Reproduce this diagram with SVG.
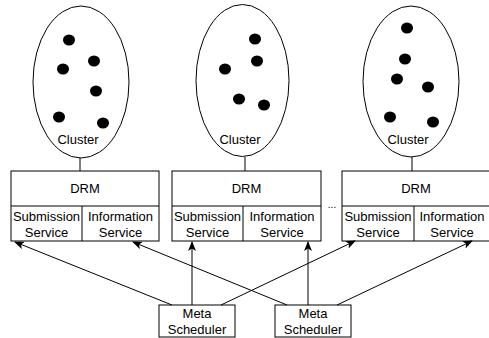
<svg xmlns="http://www.w3.org/2000/svg" width="489" height="338" viewBox="0 0 489 338">
<style>
.s{fill:#fff;stroke:#000;stroke-width:1}
.d{fill:#000}
.t{font-family:"Liberation Sans",Arial,sans-serif;font-size:13px;fill:#000;text-anchor:middle}
.c{stroke:#000;stroke-width:1;fill:none}
</style>
<defs>
<marker id="a" markerWidth="10" markerHeight="8" refX="9" refY="4" orient="auto" markerUnits="userSpaceOnUse">
<path d="M0,0 L10,4 L0,8 L2.5,4 Z" fill="#000"/>
</marker>
</defs>
<rect width="489" height="338" fill="#fff"/>
<g id="cluster1">
<ellipse class="s" cx="81" cy="82" rx="48" ry="76"/>
<ellipse class="d" cx="69" cy="40" rx="6" ry="5.5"/>
<ellipse class="d" cx="94" cy="61" rx="6" ry="5.5"/>
<ellipse class="d" cx="63" cy="69" rx="6" ry="5.5"/>
<ellipse class="d" cx="96" cy="91" rx="6" ry="5.5"/>
<ellipse class="d" cx="59" cy="117" rx="6" ry="5.5"/>
<ellipse class="d" cx="103" cy="123" rx="6" ry="5.5"/>
<text class="t" x="78" y="144">Cluster</text>
</g>
<g id="cluster2">
<ellipse class="s" cx="242.5" cy="80.5" rx="46.5" ry="76"/>
<ellipse class="d" cx="255" cy="39" rx="6" ry="5.5"/>
<ellipse class="d" cx="257" cy="61" rx="6" ry="5.5"/>
<ellipse class="d" cx="225" cy="69" rx="6" ry="5.5"/>
<ellipse class="d" cx="239" cy="99" rx="6" ry="5.5"/>
<ellipse class="d" cx="264" cy="105" rx="6" ry="5.5"/>
<text class="t" x="240" y="144">Cluster</text>
</g>
<g id="cluster3">
<ellipse class="s" cx="411" cy="81.5" rx="48" ry="75.5"/>
<ellipse class="d" cx="407" cy="28" rx="6" ry="5.5"/>
<ellipse class="d" cx="405" cy="59" rx="6" ry="5.5"/>
<ellipse class="d" cx="397" cy="79" rx="6" ry="5.5"/>
<ellipse class="d" cx="428" cy="87" rx="6" ry="5.5"/>
<ellipse class="d" cx="390" cy="117" rx="6" ry="5.5"/>
<ellipse class="d" cx="433" cy="122" rx="6" ry="5.5"/>
<text class="t" x="408" y="144">Cluster</text>
</g>
<g id="drm1">
<rect class="s" x="11" y="171" width="148" height="70"/>
<line class="c" x1="11" y1="206" x2="159" y2="206"/>
<line class="c" x1="82" y1="206" x2="82" y2="241"/>
<text class="t" x="85" y="193">DRM</text>
<text class="t" x="46.5" y="221">Submission</text>
<text class="t" x="46.5" y="237">Service</text>
<text class="t" x="120.5" y="221">Information</text>
<text class="t" x="120.5" y="237">Service</text>
</g>
<g id="drm2">
<rect class="s" x="172" y="171" width="149" height="70"/>
<line class="c" x1="172" y1="206" x2="321" y2="206"/>
<line class="c" x1="243" y1="206" x2="243" y2="241"/>
<text class="t" x="246.5" y="193">DRM</text>
<text class="t" x="207.5" y="221">Submission</text>
<text class="t" x="207.5" y="237">Service</text>
<text class="t" x="282" y="221">Information</text>
<text class="t" x="282" y="237">Service</text>
</g>
<g id="drm3">
<rect class="s" x="342" y="171" width="149" height="70"/>
<line class="c" x1="342" y1="206" x2="491" y2="206"/>
<line class="c" x1="414" y1="206" x2="414" y2="241"/>
<text class="t" x="416" y="193">DRM</text>
<text class="t" x="378" y="221">Submission</text>
<text class="t" x="378" y="237">Service</text>
<text class="t" x="452" y="221">Information</text>
<text class="t" x="452" y="237">Service</text>
</g>
<text class="t" x="332" y="208" style="font-size:10px">...</text>
<g id="meta1">
<rect class="s" x="159" y="305" width="76" height="32"/>
<text class="t" x="197" y="318">Meta</text>
<text class="t" x="197" y="334">Scheduler</text>
</g>
<g id="meta2">
<rect class="s" x="275" y="305" width="76" height="32"/>
<text class="t" x="313" y="318">Meta</text>
<text class="t" x="313" y="334">Scheduler</text>
</g>
<g id="connectors">
<line class="c" x1="80" y1="158" x2="80" y2="171"/>
<line class="c" x1="245" y1="157" x2="245" y2="171"/>
<line class="c" x1="412" y1="157" x2="412" y2="171"/>
<line class="c" x1="172" y1="305" x2="15" y2="242" marker-end="url(#a)"/>
<line class="c" x1="192" y1="305" x2="192" y2="242" marker-end="url(#a)"/>
<line class="c" x1="221" y1="305" x2="355" y2="241" marker-end="url(#a)"/>
<line class="c" x1="287" y1="305" x2="133" y2="242" marker-end="url(#a)"/>
<line class="c" x1="308" y1="305" x2="308" y2="242" marker-end="url(#a)"/>
<line class="c" x1="337" y1="305" x2="472" y2="241" marker-end="url(#a)"/>
</g>
</svg>
